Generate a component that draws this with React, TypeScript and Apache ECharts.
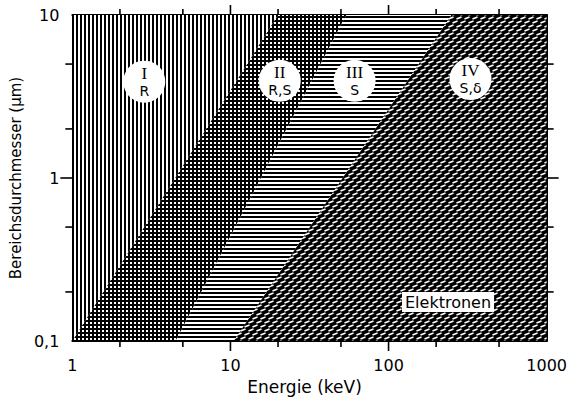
import React, { useEffect, useRef } from 'react';
import * as echarts from 'echarts';

// Axis ranges and tick positions
const xLabelValues = [1, 10, 100, 1000];
const yLabelValues = [0.1, 1, 10];
const xMajorTicks = [10, 100];
const xMinorTicks = [2, 5, 20, 50, 200, 500];
const yMajorTicks = [1];
const yMinorTicks = [0.2, 0.5, 2, 5];

// Region boundaries (energy in keV where each boundary meets 0.1 µm and 10 µm)
const boundaryBottomEnergy = [1, 4.5, 10.5];
const boundaryTopEnergy = [20, 54, 250];

// Region labels
const regionNames = ['I', 'II', 'III', 'IV'];
const regionProcesses = ['R', 'R,S', 'S', 'S,δ'];
const labelEnergy = [2.85, 20.5, 61, 330];
const labelDiameter = [3.9, 3.95, 3.95, 4.05];

const X_MIN = 1, X_MAX = 1000, Y_MIN = 0.1, Y_MAX = 10;
const FONT = 'DejaVu Sans';

function makeTile(w: number, h: number, draw: (ctx: CanvasRenderingContext2D) => void) {
  const c = document.createElement('canvas');
  c.width = w;
  c.height = h;
  const ctx = c.getContext('2d')!;
  draw(ctx);
  return { image: c, repeat: 'repeat', imageWidth: w, imageHeight: h } as any;
}

function buildPatterns() {
  const vertical = makeTile(4, 4, (ctx) => {
    ctx.fillStyle = '#fff'; ctx.fillRect(0, 0, 4, 4);
    ctx.fillStyle = '#000'; ctx.fillRect(0, 0, 2, 4);
  });
  const cross = makeTile(4, 4, (ctx) => {
    ctx.fillStyle = '#fff'; ctx.fillRect(0, 0, 4, 4);
    ctx.fillStyle = '#000'; ctx.fillRect(0, 0, 2, 4); ctx.fillRect(0, 0, 4, 2);
  });
  const horizontal = makeTile(4, 4, (ctx) => {
    ctx.fillStyle = '#fff'; ctx.fillRect(0, 0, 4, 4);
    ctx.fillStyle = '#000'; ctx.fillRect(0, 0, 4, 2);
  });
  const diag = makeTile(8, 8, (ctx) => {
    ctx.fillStyle = '#000'; ctx.fillRect(0, 0, 8, 8);
    ctx.strokeStyle = '#fff'; ctx.lineWidth = 1.6; ctx.lineCap = 'butt';
    const dash = (x: number, y: number) => {
      ctx.beginPath(); ctx.moveTo(x, y + 1); ctx.lineTo(x + 5, y - 1); ctx.stroke();
    };
    for (const dx of [-8, 0, 8]) {
      for (const dy of [-8, 0, 8]) {
        dash(0.5 + dx, 2 + dy);
        dash(4.5 + dx, 6 + dy);
      }
    }
  });
  return [vertical, cross, horizontal, diag];
}

function tickSeries(values: number[], axis: 'x' | 'y', len: number) {
  return {
    type: 'custom',
    silent: true,
    clip: false,
    z: 6,
    data: values.map((v) => (axis === 'x' ? [v, Y_MIN] : [X_MIN, v])),
    renderItem: (_p: any, api: any) => {
      const style = { stroke: '#000', lineWidth: 1.6 };
      if (axis === 'x') {
        const v = api.value(0);
        const b = api.coord([v, Y_MIN]);
        const t = api.coord([v, Y_MAX]);
        return {
          type: 'group',
          children: [
            { type: 'line', shape: { x1: b[0], y1: b[1], x2: b[0], y2: b[1] + len }, style },
            { type: 'line', shape: { x1: t[0], y1: t[1], x2: t[0], y2: t[1] - len }, style },
          ],
        };
      }
      const v = api.value(1);
      const l = api.coord([X_MIN, v]);
      const r = api.coord([X_MAX, v]);
      return {
        type: 'group',
        children: [
          { type: 'line', shape: { x1: l[0], y1: l[1], x2: l[0] - len, y2: l[1] }, style },
          { type: 'line', shape: { x1: r[0], y1: r[1], x2: r[0] + len, y2: r[1] }, style },
        ],
      };
    },
  };
}

export default function App() {
  const ref = useRef<HTMLDivElement>(null);
  useEffect(() => {
    if (!ref.current) return;
    const chart = echarts.init(ref.current, undefined, { renderer: 'svg' });
    const patterns = buildPatterns();
    const axisLine = { show: true, onZero: false, lineStyle: { color: '#000', width: 2 } };
    const option: any = {
      animation: false,
      backgroundColor: '#fff',
      grid: { left: 69, right: 22, top: 15, bottom: 58 },
      xAxis: [
        {
          type: 'log', logBase: 10, min: X_MIN, max: X_MAX, position: 'bottom',
          axisLine, axisTick: { show: false }, splitLine: { show: false }, minorTick: { show: false },
          axisLabel: {
            color: '#000', fontSize: 16, fontFamily: FONT, margin: 16, showMinLabel: true, showMaxLabel: true,
            formatter: (v: number) => (xLabelValues.some((x) => Math.abs(x - v) / x < 1e-6) ? String(v) : ''),
          },
          name: 'Energie (keV)', nameLocation: 'middle', nameGap: 37,
          nameTextStyle: { color: '#000', fontSize: 17, fontFamily: FONT, padding: [0, 10, 0, 0] },
        },
        {
          type: 'log', logBase: 10, min: X_MIN, max: X_MAX, position: 'top',
          axisLine, axisTick: { show: false }, splitLine: { show: false }, axisLabel: { show: false },
        },
      ],
      yAxis: [
        {
          type: 'log', logBase: 10, min: Y_MIN, max: Y_MAX, position: 'left',
          axisLine, axisTick: { show: false }, splitLine: { show: false }, minorTick: { show: false },
          axisLabel: {
            color: '#000', fontSize: 16, fontFamily: FONT, margin: 13, showMinLabel: true, showMaxLabel: true,
            formatter: (v: number) => {
              const m = yLabelValues.find((y) => Math.abs(y - v) / y < 1e-6);
              return m === undefined ? '' : String(m).replace('.', ',');
            },
          },
          name: 'Bereichsdurchmesser (µm)', nameLocation: 'middle', nameGap: 47,
          nameTextStyle: { color: '#000', fontSize: 15, fontFamily: FONT },
        },
        {
          type: 'log', logBase: 10, min: Y_MIN, max: Y_MAX, position: 'right',
          axisLine, axisTick: { show: false }, splitLine: { show: false }, axisLabel: { show: false },
        },
      ],
      series: [
        {
          type: 'custom',
          silent: true,
          z: 1,
          data: regionNames.map((_, i) => [labelEnergy[i], labelDiameter[i]]),
          renderItem: (params: any, api: any) => {
            const i = params.dataIndex;
            const left = i === 0
              ? [[X_MIN, Y_MIN], [X_MIN, Y_MAX]]
              : [[boundaryBottomEnergy[i - 1], Y_MIN], [boundaryTopEnergy[i - 1], Y_MAX]];
            const right = i === 3
              ? [[X_MAX, Y_MAX], [X_MAX, Y_MIN]]
              : [[boundaryTopEnergy[i], Y_MAX], [boundaryBottomEnergy[i], Y_MIN]];
            const pts = [...left, ...right].map((p) => api.coord(p));
            return { type: 'polygon', shape: { points: pts }, style: { fill: patterns[i], stroke: null } };
          },
        },
        tickSeries(xMajorTicks, 'x', 10),
        tickSeries(xMinorTicks, 'x', 6),
        tickSeries(yMajorTicks, 'y', 12),
        tickSeries(yMinorTicks, 'y', 7),
        {
          type: 'scatter',
          z: 10,
          silent: true,
          symbol: 'circle',
          symbolSize: 42,
          itemStyle: { color: '#fff', opacity: 1 },
          data: labelEnergy.map((x, i) => [x, labelDiameter[i]]),
          label: {
            show: true,
            position: 'inside',
            formatter: (p: any) => `{r|${regionNames[p.dataIndex]}}\n{s|${regionProcesses[p.dataIndex]}}`,
            rich: {
              r: { fontFamily: 'Liberation Serif', fontSize: 17, color: '#000', lineHeight: 18 },
              s: { fontFamily: FONT, fontSize: 14, color: '#000', lineHeight: 16 },
            },
          },
        },
      ],
      graphic: [
        {
          type: 'text',
          left: 402,
          top: 292,
          z: 20,
          style: {
            text: 'Elektronen',
            fontSize: 16,
            fontFamily: FONT,
            fill: '#000',
            backgroundColor: '#fff',
            padding: [2, 3, 2, 3],
          },
        },
      ],
    };
    chart.setOption(option);
    return () => chart.dispose();
  }, []);
  return <div ref={ref} style={{ position: 'fixed', left: 0, top: 0, width: 570, height: 400 }} />;
}
